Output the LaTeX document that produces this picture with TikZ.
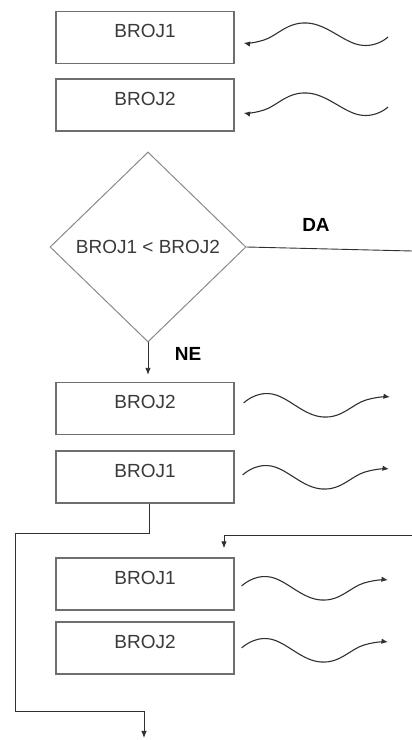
\documentclass[tikz,border=0pt]{standalone}
\usepackage{fontspec}
\setmainfont{Liberation Sans}
\usetikzlibrary{shapes.geometric,arrows.meta,calc}
\definecolor{boxgray}{HTML}{6E6E6E}
\definecolor{txtgray}{HTML}{3A3A3A}
\definecolor{linegray}{HTML}{303030}
\definecolor{diagray}{HTML}{8A8A8A}
\begin{document}
\begin{tikzpicture}[x=1pt,y=1pt,
  box/.style={draw=boxgray, line width=1.3pt, minimum width=178pt, minimum height=52pt,
    inner sep=0pt, text height=14pt, text depth=13pt,
    font=\fontsize{19}{22}\selectfont, text=txtgray},
  decision/.style={diamond, draw=diagray, line width=1pt, minimum width=196pt,
    minimum height=190pt, inner sep=0pt, font=\fontsize{19}{22}\selectfont, text=txtgray},
  lbl/.style={font=\bfseries\fontsize{19}{22}\selectfont, text=black, inner sep=0pt},
  conn/.style={draw=linegray, line width=0.9pt},
  arr/.style={conn, -{Latex[length=7pt,width=5.5pt]}},
  wave/.style={draw=linegray, line width=1.1pt, -{Latex[length=6.5pt,width=5.5pt]}}]
\useasboundingbox (0,0) rectangle (412,740);

% boxes
\node[box] (b1) at (145,702.5) {BROJ1};
\node[box] (b2) at (145,635) {BROJ2};
\node[decision] (d) at (148,493) {BROJ1 < BROJ2};
\node[box] (b3) at (145,331.5) {BROJ2};
\node[box] (b4) at (145,263) {BROJ1};
\node[box] (b5) at (145,156) {BROJ1};
\node[box] (b6) at (145,92) {BROJ2};

% labels
\node[lbl] (da) at (316,515) {DA};
\node[lbl] (ne) at (188,386) {NE};

% free ends
\coordinate (e1) at (388,703);
\coordinate (e2) at (388,633);
\coordinate (e3) at (390,343);
\coordinate (e4) at (389,271);
\coordinate (e5) at (388,160);
\coordinate (e6) at (388,98);
\coordinate (daend) at (412,489);
\coordinate (ret) at (412,205);
\coordinate (c1) at (15,207);
\coordinate (c2) at (15,29);
\coordinate (fin) at (144,2);

% input waves
\draw[wave] plot[smooth, tension=0.75] coordinates {(e1) (360,695)
  (307,717) (264,700) ($(b1.east)+(9,-5.5)$)};
\draw[wave] plot[smooth, tension=0.75] coordinates {(e2) (360,625)
  (307,647) (264,630) ($(b2.east)+(9,-8)$)};

% output waves
\draw[wave] plot[smooth, tension=0.75] coordinates {($(b3.east)+(9,5.5)$) (272,346)
  (323,323) (366,340) (e3)};
\draw[wave] plot[smooth, tension=0.75] coordinates {($(b4.east)+(8,2)$) (271,274)
  (322,251) (365,268) (e4)};
\draw[wave] plot[smooth, tension=0.75] coordinates {($(b5.east)+(7,-2)$) (270,163)
  (321,140) (364,157) (e5)};
\draw[wave] plot[smooth, tension=0.75] coordinates {($(b6.east)+(7,0)$) (270,101)
  (321,78) (364,95) (e6)};

% connectors
\draw[arr, shorten >=7pt] (d.south) -- (d.south |- b3.north);
\draw[conn] (d.east) -- (daend);
\draw[arr] (ret) -| ($(b5.north)+(79,9)$);
\draw[arr] ($(b4.south)+(4,0)$) |- (c1) -- (c2) -| (fin);
\end{tikzpicture}
\end{document}
